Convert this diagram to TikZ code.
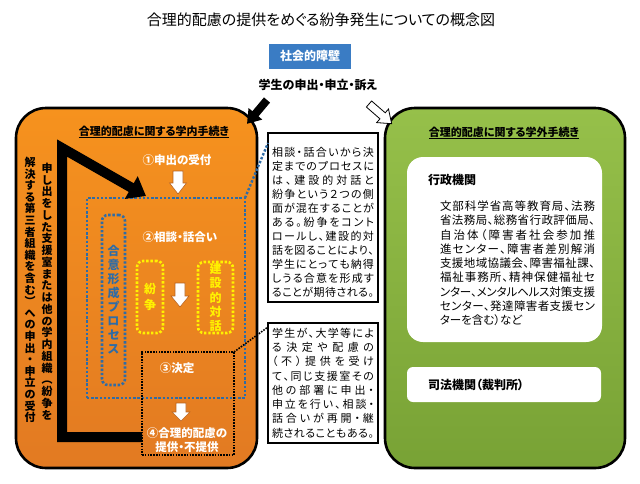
\documentclass[tikz,border=0pt]{standalone}
\usepackage{fontspec}
\setmainfont{Noto Sans CJK JP}[RawFeature=+palt]
\usetikzlibrary{arrows.meta}
\definecolor{orT}{HTML}{F6921E}
\definecolor{orB}{HTML}{E27A22}
\definecolor{grT}{HTML}{96C04A}
\definecolor{grB}{HTML}{78A235}
\definecolor{blueBox}{HTML}{3A7CC4}
\definecolor{dotBlue}{HTML}{2F6CA6}
\definecolor{vyellow}{HTML}{FFF200}
\definecolor{arrEdge}{HTML}{B8621E}
\makeatletter
\newcommand\jline[2]{\hbox to #1{\@tfor\jc:=#2\do{\jc\hskip 0pt plus 1fil minus 1.5pt}\unskip}}
\newcommand\vstack[2]{\vbox{\baselineskip=#1\relax\lineskiplimit=-100pt\@tfor\vc:=#2\do{\hbox to 1.3em{\hss\vc\hss}}}}
\makeatother
\tikzset{
  pics/blockarrow/.style n args={5}{code={
    \path[#5] (0,-#3) -- (#1-#2,-#3) -- (#1-#2,-#4) -- (#1,0) -- (#1-#2,#4) -- (#1-#2,#3) -- (0,#3) -- cycle;
  }},
}
\begin{document}
\begin{tikzpicture}[x=1pt,y=-1pt,
  every node/.style={inner sep=0pt,outer sep=0pt},
  bluedot/.style={draw=dotBlue,line width=2.6pt,dash pattern=on 2.4pt off 1.8pt},
  yeldot/.style={draw=vyellow,line width=2.6pt,dash pattern=on 2.4pt off 1.8pt,rounded corners=6pt},
  blackdot/.style={draw=black,line width=1.6pt,dash pattern=on 1.6pt off 1.2pt},
  whitelbl/.style={text=white,font=\bfseries\fontsize{11.5}{14}\selectfont},
  callout/.style={draw=black,line width=1.6pt,fill=white},
  bigbox/.style={draw=black,line width=2.6pt,rounded corners=30pt},
  wa/.style={draw=arrEdge,fill=white,line width=0.6pt},
  boldtxt/.style={font=\bfseries\fontsize{12}{14}\selectfont},
  headtxt/.style={font=\bfseries\fontsize{11}{13}\selectfont},
  bodytxt/.style={font=\fontsize{11}{14}\selectfont},
]
\useasboundingbox[fill=white] (0,0) rectangle (640,483);

% title and top
\node[font=\fontsize{15}{18}\selectfont] (title) at (321,20) {合理的配慮の提供をめぐる紛争発生についての概念図};
\node[fill=blueBox,text=white,boldtxt,minimum width=82pt,minimum height=25pt] (barrier) at (310,56) {社会的障壁};
\node[boldtxt] (student) at (318,85) {学生の申出・申立・訴え};

% left box
\node[bigbox,top color=orT,bottom color=orB,minimum width=241pt,minimum height=360pt] (inbox) at (136.5,288) {};
\node[headtxt] (inhead) at (154,132) {\underline{合理的配慮に関する学内手続き}};

\node[font=\bfseries\fontsize{11}{11}\selectfont] (vt1) at (47,291.5) {\vstack{11.75pt}{申し出をした支援室または他の学内組織︵紛争を}};
\node[font=\bfseries\fontsize{11}{11}\selectfont] (vt2) at (30,290) {\vstack{11.6pt}{解決する第三者組織を含む︶への申出・申立の受付}};

\node[bluedot,minimum width=158pt,minimum height=200pt] (proc) at (166,298) {};
\node[bluedot,rounded corners=6pt,minimum width=23pt,minimum height=170pt,text=dotBlue,font=\bfseries\fontsize{12}{12}\selectfont] (agree) at (113.5,300) {\vstack{14pt}{合意形成プロセス}};
\node[yeldot,minimum width=26pt,minimum height=72pt,text=vyellow,font=\bfseries\fontsize{12}{12}\selectfont] (conf) at (150,297) {\vstack{16pt}{紛争}};
\node[yeldot,minimum width=35pt,minimum height=71pt,text=vyellow,font=\bfseries\fontsize{12}{12}\selectfont] (cons) at (215.5,297.5) {\vstack{14.2pt}{建設的対話}};
\node[blackdot,minimum width=92pt,minimum height=103pt] (decide) at (188,403.5) {};

\node[whitelbl] (s1) at (177,160) {①申出の受付};
\node[whitelbl] (s2) at (180,237) {②相談・話合い};
\node[whitelbl] (s3) at (177,368) {③決定};
\node[whitelbl,align=center] (s4) at (187,440) {④合理的配慮の\\提供・不提供};

\pic[rotate=-90] at (178,171) {blockarrow={23}{11}{5}{8.5}{wa}};
\pic[rotate=-90] at (180,283) {blockarrow={24}{11}{5}{9}{wa}};
\pic[rotate=-90] at (181,403) {blockarrow={18}{9}{5}{9}{wa}};

\coordinate (Lc1) at (62,437);
\coordinate (Lc2) at (62,148);
\coordinate (Ltip) at (146,196);
\draw[line width=10pt,line join=miter,-{Triangle[length=17pt,width=25pt]}] (decide.west |- Lc1) -- (Lc1) -- (Lc2) -- (Ltip);

% callouts
\node[callout,minimum width=110pt,minimum height=169pt] (c1) at (323,217.5) {};
\node[bodytxt] (c1t) at (323,222) {\vbox{\baselineskip=14pt
\jline{102pt}{相談・話合いから決}
\jline{102pt}{定までのプロセスに}
\jline{102pt}{は、建設的対話と}
\jline{102pt}{紛争という２つの側}
\jline{102pt}{面が混在することが}
\jline{102pt}{ある。紛争をコント}
\jline{102pt}{ロールし、建設的対}
\jline{102pt}{話を図ることにより、}
\jline{102pt}{学生にとっても納得}
\jline{102pt}{しうる合意を形成す}
\jline{102pt}{ることが期待される。}}};

\node[callout,minimum width=110pt,minimum height=120pt] (c2) at (323,383) {};
\node[bodytxt] (c2t) at (323,383) {\vbox{\baselineskip=14.3pt
\jline{102pt}{学生が、大学等によ}
\jline{102pt}{る決定や配慮の}
\jline{102pt}{（不）提供を受け}
\jline{102pt}{て、同じ支援室その}
\jline{102pt}{他の部署に申出・}
\jline{102pt}{申立を行い、相談・}
\jline{102pt}{話合いが再開・継}
\jline{102pt}{続されることもある。}}};

\draw[bluedot,line width=2.4pt] (proc.north east) -- ([yshift=-10pt]c1.north west);
\draw[blackdot] (decide.north east) -- ([yshift=-4pt]c2.north west);

% right box
\node[bigbox,top color=grT,bottom color=grB,minimum width=240pt,minimum height=360pt] (outbox) at (505,288) {};
\node[headtxt] (outhead) at (504,133) {\underline{合理的配慮に関する学外手続き}};
\node[fill=white,rounded corners=16pt,minimum width=195pt,minimum height=185pt] (admin) at (504.5,249.5) {};
\node[boldtxt,anchor=west] (adminh) at (428,180) {行政機関};
\node[font=\fontsize{11.5}{14.25}\selectfont,anchor=north west] (admint) at (440,201) {\vbox{\baselineskip=14.25pt
\jline{155pt}{文部科学省高等教育局、法務}
\jline{155pt}{省法務局、総務省行政評価局、}
\jline{155pt}{自治体（障害者社会参加推}
\jline{155pt}{進センター、障害者差別解消}
\jline{155pt}{支援地域協議会、障害福祉課、}
\jline{155pt}{福祉事務所、精神保健福祉セ}
\jline{155pt}{ンター、メンタルヘルス対策支援}
\jline{155pt}{センター、発達障害者支援セン}
\hbox{ターを含む）など}}};
\node[fill=white,rounded corners=6pt,minimum width=194pt,minimum height=35pt] (court) at (504,384.5) {};
\node[boldtxt,anchor=west] (courtt) at (428,385) {司法機関（裁判所）};

% arrows from student text
\pic[rotate=-130] at (267,100) {blockarrow={31}{13}{4}{9}{fill=black}};
\pic[rotate=-41] at (369,104) {blockarrow={30}{12}{4}{9}{draw=black,fill=white,line width=0.8pt}};
\end{tikzpicture}
\end{document}
